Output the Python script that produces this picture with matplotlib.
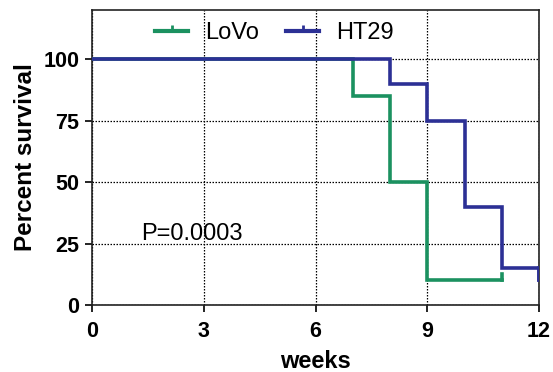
import matplotlib
matplotlib.use("Agg")
import matplotlib.pyplot as plt
from matplotlib.lines import Line2D

plt.rcParams['font.family'] = ['Liberation Sans', 'DejaVu Sans']

# Data (Kaplan-Meier steps)
lovo_t = [0, 7, 8, 9, 11]
lovo_s = [100, 85, 50, 10, 10]
ht29_t = [0, 8, 9, 10, 11, 12]
ht29_s = [100, 90, 75, 40, 15, 10]
xticks = [0, 3, 6, 9, 12]
yticks = [0, 25, 50, 75, 100]
green = '#1b9160'
blue = '#2c3095'

fig = plt.figure(figsize=(5.53, 3.72), dpi=100)
ax = fig.add_axes([0.1664, 0.1801, 0.8083, 0.7929])

for t, s, c in [(lovo_t, lovo_s, green), (ht29_t, ht29_s, blue)]:
    ax.step(t, s, where='post', color=c, lw=2.6, solid_joinstyle='miter', zorder=3)

# censor ticks
ax.plot([11, 11], [10, 12.5], color=green, lw=2.6, zorder=3)
ax.plot([12, 12], [15, 10], color=blue, lw=2.6, zorder=3)

ax.set_xlim(0, 12)
ax.set_ylim(0, 120)
ax.set_xticks(xticks)
ax.set_yticks(yticks)
ax.tick_params(axis='x', labelsize=15.5, width=1.2, length=5, direction='out', pad=6.5)
ax.tick_params(axis='y', labelsize=15.5, width=1.2, length=5, direction='out', pad=4)
for lbl in ax.get_xticklabels() + ax.get_yticklabels():
    lbl.set_fontweight('bold')
for sp in ax.spines.values():
    sp.set_linewidth(1.2)
    sp.set_color('#222222')

ax.grid(True, linestyle=(0, (1.2, 1.2)), color='black', lw=0.9)

ax.set_xlabel('weeks', fontsize=17, fontweight='bold', labelpad=6)
ax.set_ylabel('Percent survival', fontsize=17.5, fontweight='bold', labelpad=5)

ax.text(1.33, 29, 'P=0.0003', fontsize=17, va='center', ha='left', zorder=4)

handles = [Line2D([0], [0], color=green, lw=3, marker=2, markersize=4.5, markeredgewidth=2),
           Line2D([0], [0], color=blue, lw=3, marker=2, markersize=4.5, markeredgewidth=2)]
leg = fig.legend(handles, ['LoVo', 'HT29'], loc='center left', ncol=2, frameon=False,
                 fontsize=17, numpoints=1, handlelength=1.4, columnspacing=1.15,
                 handletextpad=0.72, borderpad=0, borderaxespad=0,
                 bbox_to_anchor=(155 / 553, 1 - 33 / 372))

fig.savefig('out.png', dpi=100)
